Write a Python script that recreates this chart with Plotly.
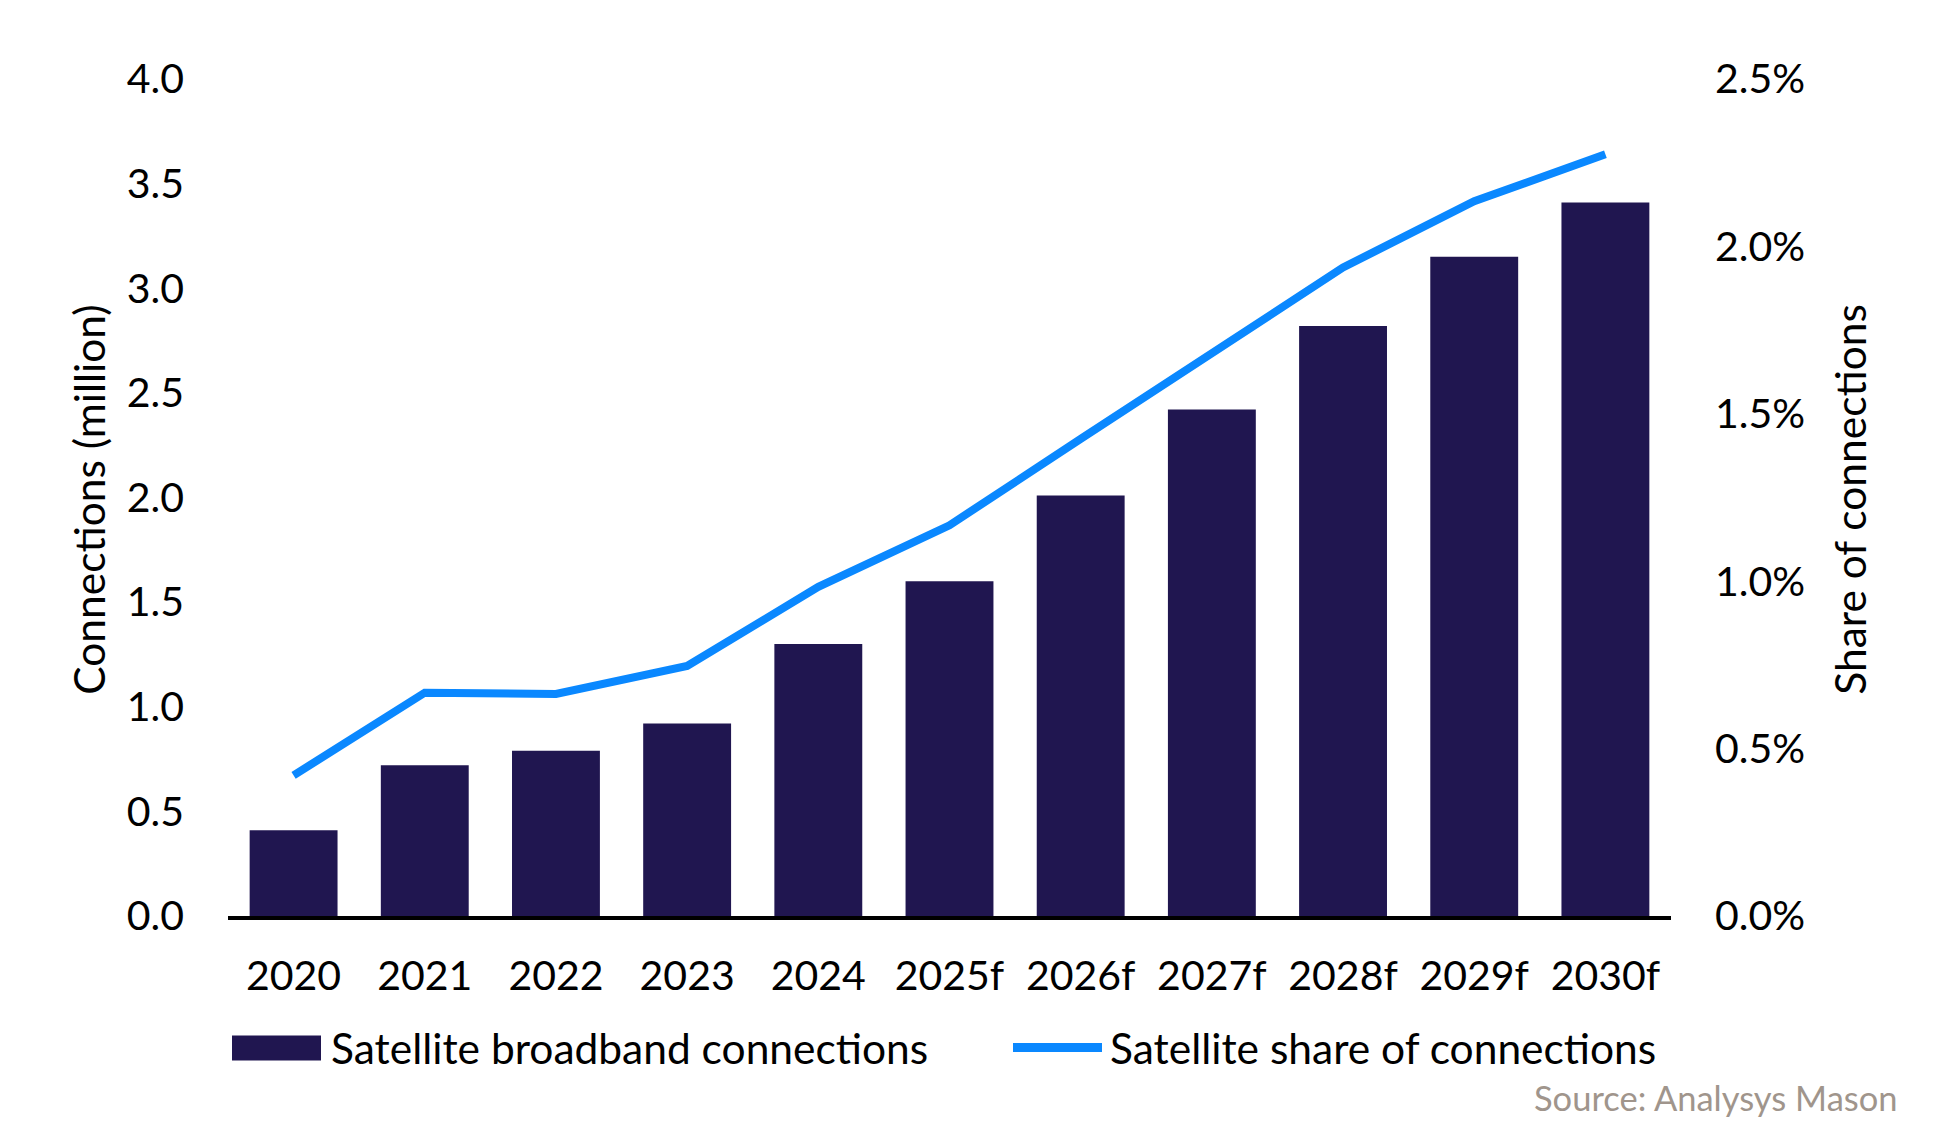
import plotly.graph_objects as go

years = ["2020", "2021", "2022", "2023", "2024", "2025f", "2026f", "2027f", "2028f", "2029f", "2030f"]
connections = [0.41, 0.72, 0.79, 0.92, 1.30, 1.60, 2.01, 2.42, 2.82, 3.15, 3.41]
share = [0.42, 0.667, 0.663, 0.747, 0.983, 1.167, 1.425, 1.68, 1.937, 2.135, 2.275]

left_ticks = [0, 0.5, 1, 1.5, 2, 2.5, 3, 3.5, 4]
left_labels = ["0.0", "0.5", "1.0", "1.5", "2.0", "2.5", "3.0", "3.5", "4.0"]
right_ticks = [0, 0.5, 1, 1.5, 2, 2.5]
right_labels = ["0.0%", "0.5%", "1.0%", "1.5%", "2.0%", "2.5%"]

BAR = "#201650"
LINE = "#0A88FF"
FONT = "Lato"
FS = 41
FS_T = 42.5

fig = go.Figure()
fig.add_trace(go.Bar(x=years, y=connections, marker=dict(color=BAR, line=dict(width=0)),
                     name="Satellite broadband connections", showlegend=False))
fig.add_trace(go.Scatter(x=years, y=share, yaxis="y2", mode="lines",
                         line=dict(color=LINE, width=8), name="Satellite share of connections",
                         showlegend=False))

# page body has an 8px margin; compensate so the plot area sits where the reference's does
fig.update_layout(
    width=1926, height=1115,
    margin=dict(l=220, r=263, t=71, b=206.5),
    plot_bgcolor="white", paper_bgcolor="white",
    font=dict(family=FONT, size=FS, color="black"),
    bargap=0.33,
    xaxis=dict(showgrid=False, showline=True, linecolor="black", linewidth=4,
               ticks="", ticklabelstandoff=21, range=[-0.5, 10.5], zeroline=False),
    yaxis=dict(range=[0, 4], tickvals=left_ticks, ticktext=left_labels, showgrid=False,
               zeroline=False, showline=False, ticks="", ticklabelstandoff=43),
    yaxis2=dict(range=[0, 2.5], tickvals=right_ticks, ticktext=right_labels, overlaying="y",
                side="right", showgrid=False, zeroline=False, showline=False, ticks="",
                ticklabelstandoff=43),
)

def px_x(p):
    return (p - 228) / 1443

def px_y(p):
    return (916.5 - p) / 837.5

annotations = [
    dict(text="Connections (million)", textangle=-90, x=px_x(89), y=px_y(500), xref="paper", yref="paper",
         showarrow=False, xanchor="center", yanchor="middle", font=dict(size=FS_T)),
    dict(text="Share of connections", textangle=-90, x=px_x(1850), y=px_y(500), xref="paper", yref="paper",
         showarrow=False, xanchor="center", yanchor="middle", font=dict(size=FS_T)),
    dict(text="Satellite broadband connections", x=px_x(329), y=px_y(1048), xref="paper", yref="paper",
         showarrow=False, xanchor="left", yanchor="middle", font=dict(size=FS_T)),
    dict(text="Satellite share of connections", x=px_x(1108), y=px_y(1048), xref="paper", yref="paper",
         showarrow=False, xanchor="left", yanchor="middle", font=dict(size=FS_T)),
    dict(text="Source: Analysys Mason", x=px_x(1900), y=px_y(1098), xref="paper", yref="paper",
         showarrow=False, xanchor="right", yanchor="middle", font=dict(size=34.5, color="#A0958C")),
]
fig.update_layout(annotations=annotations)

fig.add_shape(type="rect", xref="paper", yref="paper", x0=px_x(232), x1=px_x(321),
              y0=px_y(1061), y1=px_y(1036), fillcolor=BAR, line=dict(width=0))
fig.add_shape(type="line", xref="paper", yref="paper", x0=px_x(1013), x1=px_x(1102),
              y0=px_y(1048), y1=px_y(1048), line=dict(color=LINE, width=9))

fig.write_html("out.html")
